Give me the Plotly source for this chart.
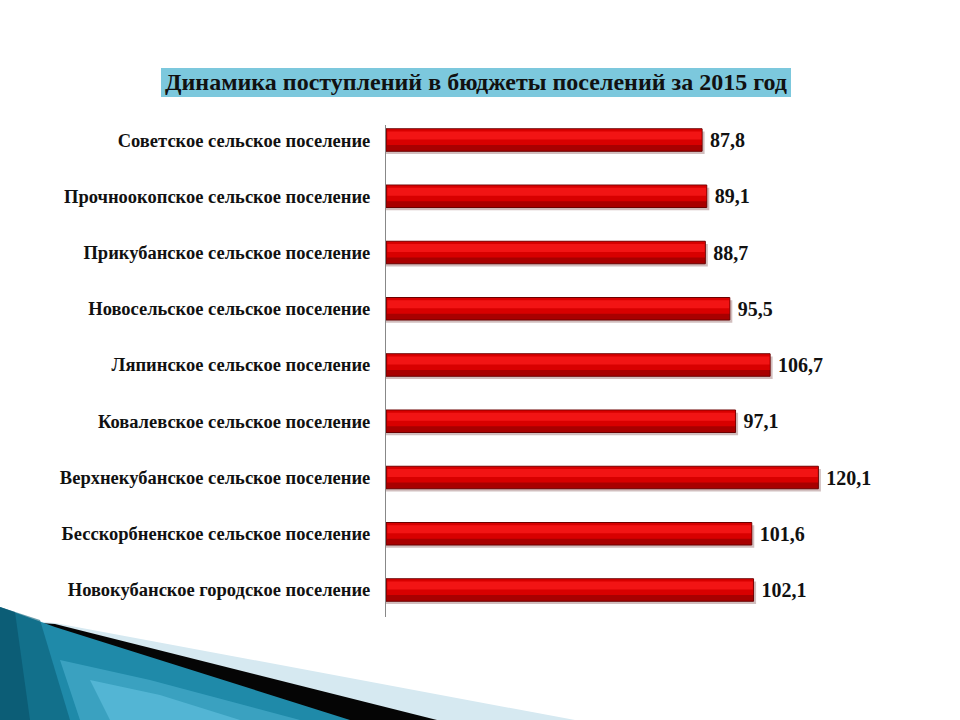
import plotly.graph_objects as go

categories = [
    "Советское сельское поселение",
    "Прочноокопское сельское поселение",
    "Прикубанское сельское поселение",
    "Новосельское сельское поселение",
    "Ляпинское сельское поселение",
    "Ковалевское сельское поселение",
    "Верхнекубанское сельское поселение",
    "Бесскорбненское сельское поселение",
    "Новокубанское городское поселение",
]
values = [87.8, 89.1, 88.7, 95.5, 106.7, 97.1, 120.1, 101.6, 102.1]
title_text = "Динамика поступлений в бюджеты поселений за 2015 год"

labels = [f"{v:.1f}".replace(".", ",") for v in values]

W, H = 960, 720
L, R, T, B = 386, 34, 125, 103
PW, PH = W - L - R, H - T - B


def px(x):
    return (x - L) / PW


def py(y):
    return (H - B - y) / PH


SERIF = "Liberation Serif"

fig = go.Figure()

# shadow
fig.add_trace(go.Bar(
    y=categories, x=[v + 0.7 for v in values], orientation="h",
    width=0.4, offset=-0.15,
    marker=dict(color="rgba(90,20,20,0.28)", line=dict(width=0)),
    hoverinfo="skip", showlegend=False,
))
# main bar
fig.add_trace(go.Bar(
    y=categories, x=values, orientation="h",
    width=0.4, offset=-0.2,
    marker=dict(color="#a80000", line=dict(color="#6a0000", width=1)),
    text=labels, texttemplate=" %{text}", textposition="outside",
    textfont=dict(family=SERIF, size=20, color="#111111", weight="bold"),
    cliponaxis=False, showlegend=False,
))
# gradient approximation
fig.add_trace(go.Bar(
    y=categories, x=[v - 0.4 for v in values], orientation="h",
    width=0.28, offset=-0.19, base=0.3,
    marker=dict(color="#d80000", line=dict(width=0)),
    hoverinfo="skip", showlegend=False,
))
fig.add_trace(go.Bar(
    y=categories, x=[v - 0.6 for v in values], orientation="h",
    width=0.14, offset=-0.15, base=0.4,
    marker=dict(color="#f21414", line=dict(width=0)),
    hoverinfo="skip", showlegend=False,
))

shapes = []
# title box
shapes.append(dict(type="rect", xref="paper", yref="paper",
                   x0=px(161), x1=px(791), y0=py(97), y1=py(68),
                   fillcolor="#7cc8dd", line=dict(width=0), layer="below"))


def poly(points, color):
    path = "M " + " L ".join(f"{px(a):.5f},{py(b):.5f}" for a, b in points) + " Z"
    return dict(type="path", xref="paper", yref="paper", path=path,
                fillcolor=color, line=dict(width=0), layer="below")


# bottom-left decoration
shapes.append(poly([(0, 618), (55, 623), (575, 720), (0, 720)], "#d6e9f1"))
shapes.append(poly([(0, 620), (55, 624), (437, 720), (0, 720)], "#050505"))
shapes.append(poly([(0, 607), (55, 627), (350, 720), (0, 720)], "#1f8aa9"))
shapes.append(poly([(60, 660), (150, 680), (300, 720), (80, 720)], "rgba(80,180,212,0.55)"))
shapes.append(poly([(90, 680), (160, 695), (240, 720), (110, 720)], "rgba(100,195,225,0.6)"))
shapes.append(poly([(0, 607), (40, 620), (70, 720), (0, 720)], "rgba(10,95,120,0.6)"))
shapes.append(poly([(0, 607), (15, 612), (30, 720), (0, 720)], "rgba(8,80,105,0.6)"))

fig.update_layout(
    width=W, height=H,
    margin=dict(l=L, r=R, t=T, b=B, pad=0),
    paper_bgcolor="white", plot_bgcolor="white",
    barmode="overlay",
    shapes=shapes,
    annotations=[dict(
        text=title_text, xref="paper", yref="paper",
        x=px(476), y=py(82.5), xanchor="center", yanchor="middle",
        showarrow=False,
        font=dict(family=SERIF, size=24, color="#111111", weight="bold"),
    )],
    xaxis=dict(range=[0, 150], visible=False, fixedrange=True),
    yaxis=dict(
        type="category", range=[8.48, -0.267],
        showline=True, linecolor="#888888", linewidth=1,
        showgrid=False, zeroline=False, ticks="",
        ticklabelstandoff=11,
        tickfont=dict(family=SERIF, size=18.5, color="#111111", weight="bold"),
    ),
)

fig.write_html("out.html", post_script="document.body.style.margin='0';",
               config={"displayModeBar": False})
